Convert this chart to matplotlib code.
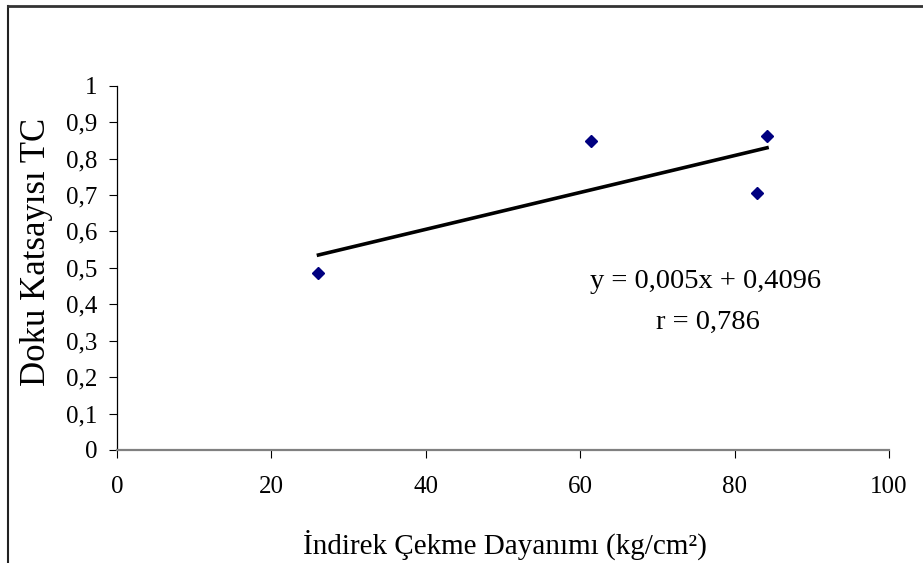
import numpy as np
import matplotlib
matplotlib.use("Agg")
import matplotlib.pyplot as plt
from matplotlib.lines import Line2D
from matplotlib.ticker import FixedLocator, FuncFormatter

plt.rcParams['font.family'] = ['Liberation Serif', 'DejaVu Serif']

# Data
x_vals = [26.1, 61.4, 82.9, 84.2]
y_vals = [0.485, 0.849, 0.706, 0.862]
x_ticks = [0, 20, 40, 60, 80, 100]
y_ticks = [0, 0.1, 0.2, 0.3, 0.4, 0.5, 0.6, 0.7, 0.8, 0.9, 1.0]
eq_text = "y = 0,005x + 0,4096"
r_text = "r = 0,786"
x_label = "İndirek Çekme Dayanımı (kg/cm²)"
y_label = "Doku Katsayısı TC"

W, H = 923, 563
fig = plt.figure(figsize=(W / 100, H / 100), dpi=100)
ax = fig.add_axes([117 / W, 1 - 450 / H, (889 - 117) / W, (450 - 85.7) / H])

ax.plot(x_vals, y_vals, linestyle='none', marker='D', markersize=6.5,
        color='#000080', zorder=3)

slope, intercept = np.polyfit(x_vals, y_vals, 1)
xs = np.array([min(x_vals), max(x_vals)])
ax.plot(xs, slope * xs + intercept, color='black', linewidth=2.6, zorder=2)

ax.set_xlim(0, 100)
ax.set_ylim(0, 1)
ax.xaxis.set_major_locator(FixedLocator(x_ticks))
ax.yaxis.set_major_locator(FixedLocator(y_ticks))

def fmt(v, pos):
    s = ('%g' % round(v, 2))
    return s.replace('.', ',')

ax.xaxis.set_major_formatter(FuncFormatter(fmt))
ax.yaxis.set_major_formatter(FuncFormatter(fmt))

for s in ['top', 'right']:
    ax.spines[s].set_visible(False)
ax.spines['left'].set_color('black')
ax.spines['left'].set_linewidth(0.9)
ax.spines['bottom'].set_color('#808080')
ax.spines['bottom'].set_linewidth(1.6)

ax.tick_params(axis='both', direction='out', length=6, width=0.8,
               color='black', labelsize=18, labelcolor='black')
ax.tick_params(axis='y', pad=8)
ax.tick_params(axis='x', pad=13)

fig.text(505 / W, 1 - 545 / H, x_label, ha='center', va='center', fontsize=21)
fig.text(37 / W, 1 - 252 / H, y_label, ha='center', va='center', fontsize=25,
         rotation=90)

ax.text(706 / 100, (H - 282) / 100, eq_text, ha='center', va='center',
        fontsize=20.5, transform=fig.dpi_scale_trans)
ax.text(708 / 100, (H - 322) / 100, r_text, ha='center', va='center',
        fontsize=20.5, transform=fig.dpi_scale_trans)

# outer frame (left and top visible)
fig.add_artist(Line2D([8 / W, 8 / W], [0, 1 - 6 / H], transform=fig.transFigure,
                      color='#222222', linewidth=1.5))
fig.add_artist(Line2D([8 / W, 1], [1 - 6 / H, 1 - 6 / H], transform=fig.transFigure,
                      color='#333333', linewidth=2))

fig.savefig('out.png', dpi=100)
